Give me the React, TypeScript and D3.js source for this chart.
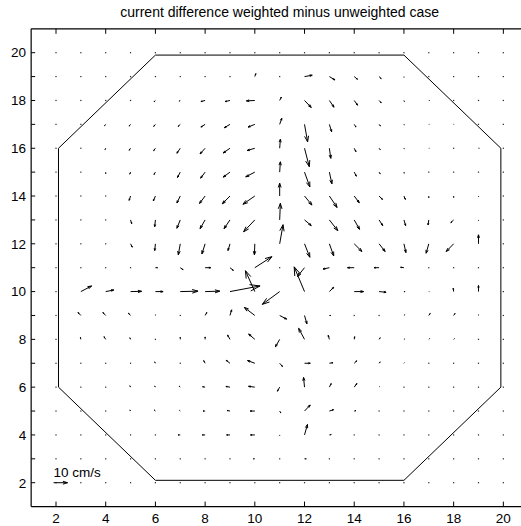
import React from 'react';
import * as d3 from 'd3';

const TITLE = 'current difference weighted minus unweighted case';

// grid columns x = 2..20, rows y = 20..2 (top to bottom)
const GRID_X = d3.range(2, 21);
const GRID_Y = d3.range(20, 1, -1);

const X_TICKS = [2, 4, 6, 8, 10, 12, 14, 16, 18, 20];
const Y_TICKS = d3.range(2, 21);
const Y_LABELS = [2, 4, 6, 8, 10, 12, 14, 16, 18, 20];

// eastward current difference (cm/s), one row per y from 20 down to 2, x = 2..20
const U_ROWS: number[][] = [
  [0, 0, 0, 0, 0, 0, 0, 0, 0, 0, 0, 0, 0, 0, 0, 0, 0, 0, 0],
  [0, 0, 0, 0, 0, 0, 0, 0, 0.7, 0, 5.5, 4, 2.3, 1.5, 0, 0, 0, 0, 0],
  [0, 0, 0, 0, -1, -0.8, -3, -3.5, -6, 1.2, 4.8, 3.3, 2.4, 1.5, 0.3, 0.5, 0, 0, 0],
  [0, 0, -0.8, -1, -1.2, -1.5, -3, -4, -4.8, 1.5, 2.2, 1.6, 1.2, 1, 0.3, 0.3, 0.3, 0, 0],
  [0, 0, -0.5, -1, -1.2, -2.4, -3.6, -4.8, -5.5, 0.5, 3.4, 1, 1.2, 0.8, 0.3, 0.3, 0, 0.5, 0],
  [0, 0, 0, -0.6, -1, -2, -3.2, -4.8, -6.5, 0.5, 3.8, 1.8, 1.5, 0.8, 0.2, 0, 0, 0, 0],
  [0, 0, 0, -1, -1.5, -2.4, -4, -5.5, -8.5, 0, 5.3, 5.5, 3.6, 2.4, 1, 0, 0, 0, 0],
  [0, 0, 0, 0.8, -0.5, -2.4, -3.6, -4.2, -8, 0.5, 4.8, 6, 3.8, 2.6, 1.2, -0.5, -2, 0, 0],
  [0, 0, 0, 1.2, -0.5, -1.4, -2.3, -1.4, -0.3, 2.4, 3.8, 3.1, 5.5, 4.3, 1.4, -1.9, -5.3, 0, 0],
  [0, 0, 0, 0, 1.5, 2, 4, 2.4, 12.2, 0, -5, -4.5, -4.8, -3.6, -2.4, 0, 0, 0, 0],
  [0, 7.7, 5.8, 7.9, 5.5, 12.7, 10.5, 21.5, -6.7, -12.4, -7.4, 3.1, 6.7, 5, 0.8, 0.3, -0.3, 0, 0],
  [0, -2, -2, -1.5, 0, 0, 1.2, 1.2, -7.5, 5, 1.7, 1, 0, 0, 0.5, 1, 1, 0, 0],
  [0, -0.3, -1.2, -0.5, 0, 0, 0, -1.7, -4.4, -3, -4.2, -0.8, 0.3, 0.8, 0.5, 0.5, 0.5, 0, 0],
  [0, 0, 0, 0, -0.5, 0, -1, -2.7, -5.2, 2, 4.1, 2.5, 1.8, 0.8, 0.3, 0, 0, 0, 0],
  [0, 0, 0, -0.5, -0.5, -0.8, -1.8, -2.9, -4.5, -1.6, -0.7, 1.3, 1.9, 0.3, 0, 0, 0, 0, 0],
  [0, 0, 0, -0.5, -0.8, -0.5, -1.5, -2, -3.3, 0.8, 4.1, 3, 1.2, 0, 0, 0, 0, 0, 0],
  [0, 0, 0, 0, 0, -1.5, -2, -2.4, -3.1, 0, 2.1, 1.3, 0, 0, 0, 0, 0, 0, 0],
  [0, 0, 0, 0, 0, 0, 0, 0, -1, 0, 1.2, 0, 0, 0, 0, 0, 0, 0, 0],
  [0, 0, 0, 0, 0, 0, 0, 0, 0, 0, 0, 0, 0, 0, 0, 0, 0, 0, 0],
];

// northward current difference (cm/s), same layout
const V_ROWS: number[][] = [
  [0, 0, 0, 0, 0, 0, 0, 0, 0, 0, 0, 0, 0, 0, 0, 0, 0, 0, 0],
  [0, 0, 0, 0, 0, 0, 0, 0, 2.2, 0, 1, -2.5, -2, -1.5, -0.5, 0, 0, 0, 0],
  [0, 0, 0, 0, -1, -0.5, -0.8, -0.8, -0.3, 2.5, -5.2, -5, -3.5, -1.7, -0.8, 0, 0, 0, 0],
  [0, 0, -1, -1.3, -1.5, -1.5, -2, -2.5, -2, 4.5, -13, -5.5, -2, -1.2, -0.5, 0, 0, 0, 0],
  [0, 0, -1, -1.5, -1.8, -3.7, -4.2, -3.5, -1.7, 6.7, -13.7, -7.5, -2.5, -1, -0.5, 0, 0, 0, 0],
  [0, 0, -1, -1.5, -1.8, -4, -4.5, -3.7, -3.5, 7.7, -11, -8.7, -3, -1.2, -0.8, 0, 0, 0, 0],
  [0, 0, 0, -3.2, -3.7, -5.2, -5.5, -5.8, -6.1, 9.5, -6.7, -8.5, -5, -2.5, -2.5, -1.2, -1, -0.5, 0],
  [0, 0, 0, -2.8, -5, -6.2, -6.5, -6.5, -8.8, 12.3, -4.2, -8, -7, -4.2, -4.2, -3.7, -2, -0.5, 0],
  [0, 0, 0, -2.5, -5, -8.2, -7.5, -5, -8.2, 14.2, -10, -9, -5.7, -5.7, -6.5, -7, -5.7, 6.7, 0],
  [0, 0, 0, 0, 0, -1.5, 0, -2, 8.2, 0, -6.5, -1, 0, 0, 0.3, 0, 0, 0, 0],
  [0, 4.2, 1.2, 0.2, 0, 0.3, 0.3, 4.2, 15.5, -9.5, 18.4, 3.2, 0, -0.5, 0, 0, 2.5, 4.5, 0],
  [0, 2.2, 2.2, 1.7, 0.5, 0, 2.2, 4.2, 6, -2.7, -6.2, 0, 0, 0, 0.5, 1.5, 1.5, 0.5, 0],
  [0, 1.5, 2, 1.2, 0, 1.5, 1.8, 3.2, 4, -5.5, 8.2, 3, 2, 1.2, 0.3, 0.5, 0.5, 0, 0],
  [0, 0, 0, 0, 1, 0, 2, 2.2, 2, -2.4, 0, 0.4, 1.8, 1, 0.3, 0, 0, 0, 0],
  [0, 0, 0, 1, 0.8, 0.8, 0.3, 0.5, 0.6, -3, 7.2, 2.7, 2.7, 0.3, 0, 0, 0, 0, 0],
  [0, 0, 0, 0.8, 0.8, 0.5, 0, 0.4, 0, -1.4, 4.5, 1, 0.3, 0, 0, 0, 0, 0, 0],
  [0, 0, 0, 0, 0, 0, 0, 0, 0, -0.5, 7.8, 0.3, 0, 0, 0, 0, 0, 0, 0],
  [0, 0, 0, 0, 0, 0, 0, 0, 0, 0, 0, 0, 0, 0, 0, 0, 0, 0, 0],
  [0, 0, 0, 0, 0, 0, 0, 0, 0, 0, 0, 0, 0, 0, 0, 0, 0, 0, 0],
];

// basin outline (grid units)
const BASIN_X = [2.1, 2.1, 6, 16, 19.9, 19.9, 16, 6];
const BASIN_Y = [6, 16, 19.9, 19.9, 16, 6, 2.1, 2.1];

// reference arrow
const REF_SPEED = 10;
const REF_LABEL = '10 cm/s';
const REF_AT = [1.9, 2];

const W = 521;
const H = 526;
const FONT = '"Liberation Sans", Arial, Helvetica, sans-serif';
// grid units per cm/s
const ARROW_K = 0.0563;

const x = d3.scaleLinear().domain([1, 21]).range([31.15, 528.2]);
const y = d3.scaleLinear().domain([1, 21]).range([506.6, 28.8]);

function arrowPath(x0: number, y0: number, u: number, v: number): string {
  const du = u * ARROW_K;
  const dv = v * ARROW_K;
  const alpha = 0.33;
  const beta = 0.33;
  const tx = x0 + du;
  const ty = y0 + dv;
  const h1x = tx - alpha * (du + beta * dv);
  const h1y = ty - alpha * (dv - beta * du);
  const h2x = tx - alpha * (du - beta * dv);
  const h2y = ty - alpha * (dv + beta * du);
  const p = d3.path();
  p.moveTo(x(x0), y(y0));
  p.lineTo(x(tx), y(ty));
  p.moveTo(x(h1x), y(h1y));
  p.lineTo(x(tx), y(ty));
  p.lineTo(x(h2x), y(h2y));
  return p.toString();
}

export default function App() {
  const basin = d3.line<number>()
    .x((i) => x(BASIN_X[i]))
    .y((i) => y(BASIN_Y[i]))
    .curve(d3.curveLinearClosed)(d3.range(BASIN_X.length)) as string;

  const dots: React.ReactNode[] = [];
  const arrows: React.ReactNode[] = [];
  GRID_Y.forEach((gy, r) => {
    GRID_X.forEach((gx, c) => {
      const u = U_ROWS[r][c];
      const v = V_ROWS[r][c];
      if (Math.hypot(u, v) < 0.05) {
        dots.push(
          <rect key={`d${r}-${c}`} x={x(gx) - 0.6} y={y(gy) - 0.6} width={1.2} height={1.2} fill="#222" />
        );
      } else {
        arrows.push(<path key={`a${r}-${c}`} d={arrowPath(gx, gy, u, v)} />);
      }
    });
  });

  const left = x(1);
  const right = x(21);
  const top = y(21);
  const bottom = y(1);

  return (
    <svg width={W} height={H} style={{ position: 'absolute', left: 0, top: 0, background: '#fff' }}>
      <rect x={0} y={0} width={W} height={H} fill="#fff" />
      <text x={x(11)} y={16.5} textAnchor="middle" fontFamily={FONT} fontSize={14} fill="#000">
        {TITLE}
      </text>

      {/* axes box */}
      <g stroke="#000" strokeWidth={1.2} fill="none">
        <line x1={left} y1={top} x2={right} y2={top} />
        <line x1={left} y1={bottom} x2={right} y2={bottom} />
        <line x1={left} y1={top} x2={left} y2={bottom} />
        <line x1={right} y1={top} x2={right} y2={bottom} />
      </g>

      {/* ticks */}
      <g stroke="#000" strokeWidth={1}>
        {X_TICKS.map((t) => (
          <g key={`xt${t}`}>
            <line x1={x(t)} x2={x(t)} y1={bottom} y2={bottom - 5} />
            <line x1={x(t)} x2={x(t)} y1={top} y2={top + 5} />
          </g>
        ))}
        {Y_TICKS.map((t) => (
          <line key={`yt${t}`} x1={left} x2={left + 4} y1={y(t)} y2={y(t)} />
        ))}
      </g>
      <g fontFamily={FONT} fontSize={13.5} fill="#000">
        {X_TICKS.map((t) => (
          <text key={`xl${t}`} x={x(t)} y={bottom + 16.5} textAnchor="middle">{t}</text>
        ))}
        {Y_LABELS.map((t) => (
          <text key={`yl${t}`} x={left - 5} y={y(t) + 4.8} textAnchor="end">{t}</text>
        ))}
      </g>

      {/* basin outline */}
      <path d={basin} fill="none" stroke="#000" strokeWidth={1} />

      {/* current difference vectors */}
      <g>{dots}</g>
      <g fill="none" stroke="#000" strokeWidth={1}>{arrows}</g>

      {/* reference arrow */}
      <path d={arrowPath(REF_AT[0], REF_AT[1], REF_SPEED, 0)} fill="none" stroke="#000" strokeWidth={1} />
      <text x={x(REF_AT[0])} y={y(REF_AT[1]) - 6} fontFamily={FONT} fontSize={13.5} fill="#000">
        {REF_LABEL}
      </text>
    </svg>
  );
}
